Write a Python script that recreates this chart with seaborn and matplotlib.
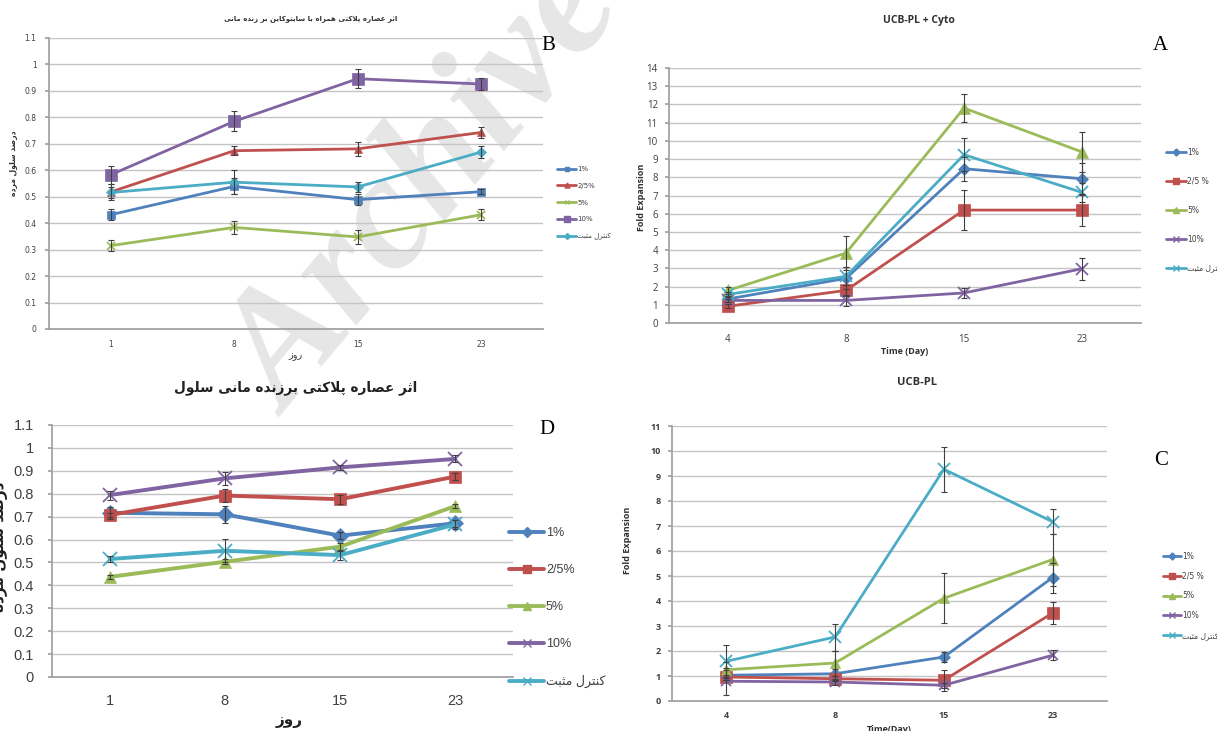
import pandas as pd
import matplotlib.pyplot as plt
import seaborn as sns
from matplotlib.lines import Line2D

# ---------------- data ----------------
days_b = ['1', '8', '15', '23']
days_a = ['4', '8', '15', '23']
days_d = ['1', '8', '15', '23']
days_c = ['4', '8', '15', '23']

# panel B - dead cell percent with cytokine
b_1 = [0.432, 0.539, 0.489, 0.519]
b_25 = [0.518, 0.674, 0.681, 0.743]
b_5 = [0.315, 0.384, 0.348, 0.432]
b_10 = [0.583, 0.785, 0.946, 0.926]
b_ctrl = [0.516, 0.555, 0.537, 0.669]
b_1_err = [0.02, 0.03, 0.02, 0.01]
b_25_err = [0.03, 0.016, 0.027, 0.021]
b_5_err = [0.022, 0.025, 0.025, 0.02]
b_10_err = [0.035, 0.038, 0.036, 0.022]
b_ctrl_err = [0.02, 0.045, 0.02, 0.022]

# panel A - UCB-PL + Cyto fold expansion
a_1 = [1.32, 2.45, 8.47, 7.92]
a_25 = [0.92, 1.79, 6.2, 6.2]
a_5 = [1.79, 3.84, 11.8, 9.39]
a_10 = [1.24, 1.24, 1.65, 2.98]
a_ctrl = [1.57, 2.56, 9.24, 7.17]
a_1_err = [0.15, 0.6, 0.67, 0.86]
a_25_err = [0.1, 0.3, 1.08, 0.85]
a_5_err = [0.2, 0.95, 0.75, 1.1]
a_10_err = [0.1, 0.3, 0.25, 0.6]
a_ctrl_err = [0.15, 0.5, 0.92, 0.5]

# panel D - dead cell percent
d_1 = [0.717, 0.71, 0.617, 0.671]
d_25 = [0.707, 0.792, 0.776, 0.875]
d_5 = [0.437, 0.503, 0.569, 0.746]
d_10 = [0.794, 0.867, 0.915, 0.952]
d_ctrl = [0.515, 0.551, 0.532, 0.666]
d_1_err = [0.027, 0.036, 0.015, 0.015]
d_25_err = [0.01, 0.03, 0.02, 0.015]
d_5_err = [0.01, 0.01, 0.015, 0.01]
d_10_err = [0.02, 0.03, 0.01, 0.015]
d_ctrl_err = [0.015, 0.05, 0.02, 0.02]

# panel C - UCB-PL fold expansion
c_1 = [1.03, 1.09, 1.76, 4.94]
c_25 = [0.96, 0.89, 0.83, 3.52]
c_5 = [1.25, 1.52, 4.11, 5.66]
c_10 = [0.79, 0.76, 0.63, 1.83]
c_ctrl = [1.59, 2.56, 9.27, 7.17]
c_1_err = [0.2, 0.2, 0.2, 0.6]
c_25_err = [0.1, 0.1, 0.42, 0.45]
c_5_err = [0.3, 0.5, 1.0, 1.04]
c_10_err = [0.53, 0.1, 0.1, 0.2]
c_ctrl_err = [0.67, 0.54, 0.9, 0.5]

colors = ['#4F81BD', '#C0504D', '#9BBB59', '#8064A2', '#4BACC6']


# ---------------- simple persian shaping (no bidi lib available) ----------------
FORMS = {  # isolated, final, initial, medial
    'ا': ('\uFE8D', '\uFE8E', None, None),
    'ب': ('\uFE8F', '\uFE90', '\uFE91', '\uFE92'),
    'پ': ('\uFB56', '\uFB57', '\uFB58', '\uFB59'),
    'ت': ('\uFE95', '\uFE96', '\uFE97', '\uFE98'),
    'ث': ('\uFE99', '\uFE9A', '\uFE9B', '\uFE9C'),
    'د': ('\uFEA9', '\uFEAA', None, None),
    'ر': ('\uFEAD', '\uFEAE', None, None),
    'ز': ('\uFEAF', '\uFEB0', None, None),
    'س': ('\uFEB1', '\uFEB2', '\uFEB3', '\uFEB4'),
    'ص': ('\uFEB9', '\uFEBA', '\uFEBB', '\uFEBC'),
    'ع': ('\uFEC9', '\uFECA', '\uFECB', '\uFECC'),
    'ک': ('\uFB8E', '\uFB8F', '\uFB90', '\uFB91'),
    'ل': ('\uFEDD', '\uFEDE', '\uFEDF', '\uFEE0'),
    'م': ('\uFEE1', '\uFEE2', '\uFEE3', '\uFEE4'),
    'ن': ('\uFEE5', '\uFEE6', '\uFEE7', '\uFEE8'),
    'ه': ('\uFEE9', '\uFEEA', '\uFEEB', '\uFEEC'),
    'و': ('\uFEED', '\uFEEE', None, None),
    'ی': ('\uFBFC', '\uFBFD', '\uFBFE', '\uFBFF'),
}


def fa(s):
    out = []
    i = 0
    while i < len(s):
        c = s[i]
        if c not in FORMS:
            out.append(c)
            i += 1
            continue
        prev = s[i - 1] if i > 0 else None
        nxt = s[i + 1] if i + 1 < len(s) else None
        jp = prev in FORMS and FORMS[prev][2] is not None
        if c == 'ل' and nxt == 'ا':
            out.append('\uFEFC' if jp else '\uFEFB')
            i += 2
            continue
        jn = FORMS[c][2] is not None and nxt in FORMS
        iso, fin, ini, med = FORMS[c]
        if jp and jn:
            out.append(med)
        elif jp:
            out.append(fin)
        elif jn:
            out.append(ini)
        else:
            out.append(iso)
        i += 1
    return ''.join(reversed(out))


ctrl_label = fa('کنترل مثبت')
title_b = fa('اثر عصاره پلاکتی همراه با سایتوکاین بر زنده مانی')
title_d = fa('اثر عصاره پلاکتی برزنده مانی سلول')
ylab_fa = fa('درصد سلول مرده')
xlab_fa = fa('روز')

sns.set_theme(style='white')
plt.rcParams['font.family'] = ['DejaVu Sans']

W, H = 1217, 731
fig = plt.figure(figsize=(W / 100, H / 100), dpi=100)
fig.patch.set_facecolor('white')


def px_axes(l, t, r, b):
    ax = fig.add_axes([l / W, 1 - b / H, (r - l) / W, (b - t) / H])
    ax.set_facecolor('none')
    return ax


def draw_panel(ax, days, vals, errs, labels, markers, msizes, ylim, yticks,
               lw, tick_fs, tick_font, tick_weight, xpad, ypad, leg_xy, leg_fs,
               leg_hl, leg_ls, leg_font):
    pos = list(range(len(days)))
    for v, e, col, mk, ms in zip(vals, errs, colors, markers, msizes):
        df = pd.DataFrame({'x': pos, 'y': v})
        sns.lineplot(data=df, x='x', y='y', color=col, lw=lw, marker=mk, ms=ms,
                     mew=1.3 if mk in ('x', '+') else 0.5, mec=col, ax=ax, zorder=3)
        ax.errorbar(pos, v, yerr=e, fmt='none', ecolor='#404040', elinewidth=0.8,
                    capsize=2.2, capthick=0.8, zorder=4)
    ax.set_xlim(-0.5, len(days) - 0.5)
    ax.set_ylim(*ylim)
    ax.set_yticks(yticks)
    ax.set_yticklabels([f'{t:g}' for t in yticks])
    ax.set_xticks(pos)
    ax.set_xticklabels(days)
    ax.yaxis.grid(True, color='#c4c4c4', lw=1.0)
    ax.set_axisbelow(True)
    for s in ['top', 'right']:
        ax.spines[s].set_visible(False)
    ax.spines['left'].set_color('#a0a0a0')
    ax.spines['bottom'].set_color('#a0a0a0')
    ax.tick_params(axis='y', length=3, color='#a0a0a0', pad=ypad, left=True)
    ax.tick_params(axis='x', length=0, pad=xpad)
    for t in ax.get_xticklabels() + ax.get_yticklabels():
        t.set_fontsize(tick_fs)
        t.set_family(tick_font)
        t.set_weight(tick_weight)
        t.set_color('#404040')
    ax.set_xlabel('')
    ax.set_ylabel('')
    handles = [Line2D([], [], color=col, lw=lw, marker=mk, ms=ms * 0.6,
                      mew=1.0, mec=col) for col, mk, ms in zip(colors, markers, msizes)]
    leg = ax.legend(handles, labels, loc='upper left',
                    bbox_to_anchor=(leg_xy[0] / W, 1 - leg_xy[1] / H),
                    bbox_transform=fig.transFigure, frameon=False,
                    fontsize=leg_fs, handlelength=leg_hl, handletextpad=0.15,
                    labelspacing=leg_ls, borderpad=0, borderaxespad=0)
    for t in leg.get_texts():
        t.set_family(leg_font)
        t.set_color('#404040')


# panel B
ax_b = px_axes(49, 38, 543, 329)
draw_panel(ax_b, days_b, [b_1, b_25, b_5, b_10, b_ctrl],
           [b_1_err, b_25_err, b_5_err, b_10_err, b_ctrl_err],
           ['1%', '2/5%', '5%', '10%', ctrl_label],
           ['s', '^', 'x', 's', 'D'], [6, 6, 6, 8, 5],
           (0, 1.1), [0, 0.1, 0.2, 0.3, 0.4, 0.5, 0.6, 0.7, 0.8, 0.9, 1, 1.1],
           2.0, 5.5, 'DejaVu Sans', 'normal', 8, 6, (557, 166), 5, 2.8, 1.55, ['DejaVu Sans'])

# panel A
ax_a = px_axes(669, 68, 1141, 323)
draw_panel(ax_a, days_a, [a_1, a_25, a_5, a_10, a_ctrl],
           [a_1_err, a_25_err, a_5_err, a_10_err, a_ctrl_err],
           ['1%', '2/5 %', '5%', '10%', ctrl_label],
           ['D', 's', '^', 'x', 'x'], [6, 8, 8, 8, 8],
           (0, 14), list(range(0, 15)),
           2.0, 7, 'Open Sans', 'normal', 8, 5, (1166, 148), 5.5, 2.6, 2.6, ['DejaVu Sans'])

# panel D
ax_d = px_axes(52, 425, 513, 677)
draw_panel(ax_d, days_d, [d_1, d_25, d_5, d_10, d_ctrl],
           [d_1_err, d_25_err, d_5_err, d_10_err, d_ctrl_err],
           ['1%', '2/5%', '5%', '10%', ctrl_label],
           ['D', 's', '^', 'x', 'x'], [8, 9, 9, 10, 10],
           (0, 1.1), [0, 0.1, 0.2, 0.3, 0.4, 0.5, 0.6, 0.7, 0.8, 0.9, 1, 1.1],
           2.8, 10.5, 'Liberation Sans', 'normal', 12, 10, (509, 527), 9, 2.8, 2.0,
           ['Liberation Sans', 'DejaVu Sans'])

# panel C
ax_c = px_axes(672, 426, 1107, 701)
draw_panel(ax_c, days_c, [c_1, c_25, c_5, c_10, c_ctrl],
           [c_1_err, c_25_err, c_5_err, c_10_err, c_ctrl_err],
           ['1%', '2/5 %', '5%', '10%', ctrl_label],
           ['D', 's', '^', 'x', 'x'], [6, 8, 7, 7, 8],
           (0, 11), list(range(0, 12)),
           2.0, 6.5, 'Open Sans', 'bold', 7, 5, (1163, 552), 5.5, 2.4, 1.4, ['DejaVu Sans'])


# titles and axis labels (pixel positions)
def ftext(x, y, s, **kw):
    fig.text(x / W, 1 - y / H, s, ha='center', va='center', **kw)


ftext(311, 19, title_b, fontsize=5, fontweight='bold', color='#303030')
ftext(13, 163, ylab_fa, fontsize=5.5, fontweight='bold', rotation=90, color='#303030')
ftext(296, 356, xlab_fa, fontsize=7, color='#404040')

ftext(919, 20, 'UCB-PL + Cyto', fontsize=7.5, fontweight='bold', family='Open Sans', color='#303030')
ftext(641, 197, 'Fold Expansion', fontsize=6.5, fontweight='bold', rotation=90, family='Open Sans', color='#303030')
ftext(905, 352, 'Time (Day)', fontsize=6.5, fontweight='bold', family='Open Sans', color='#303030')

ftext(296, 388, title_d, fontsize=9.8, fontweight='bold', color='#202020')
ftext(1, 547, ylab_fa, fontsize=11, fontweight='bold', rotation=90, color='#202020')
ftext(289, 721, xlab_fa, fontsize=11, fontweight='bold', color='#202020')

ftext(917, 383, 'UCB-PL', fontsize=8, fontweight='bold', family='Open Sans', color='#303030')
ftext(628, 540, 'Fold Expansion', fontsize=6.5, fontweight='bold', rotation=90, family='Open Sans', color='#303030')
ftext(889, 729, 'Time(Day)', fontsize=6.5, fontweight='bold', family='Open Sans', color='#303030')

# panel letters
for lx, ly, letter in [(548, 45, 'B'), (1160, 45, 'A'), (547, 430, 'D'), (1161, 460, 'C')]:
    ftext(lx, ly, letter, fontsize=15, family='Liberation Serif', color='black')

# watermark
fig.text(428 / W, 1 - 190 / H, 'Archive', rotation=50, fontsize=118, family='Liberation Serif',
         fontweight='bold', style='italic', color='#e6e6e6', ha='center', va='center', zorder=-1)

fig.savefig('out.png', dpi=100, facecolor='white')
